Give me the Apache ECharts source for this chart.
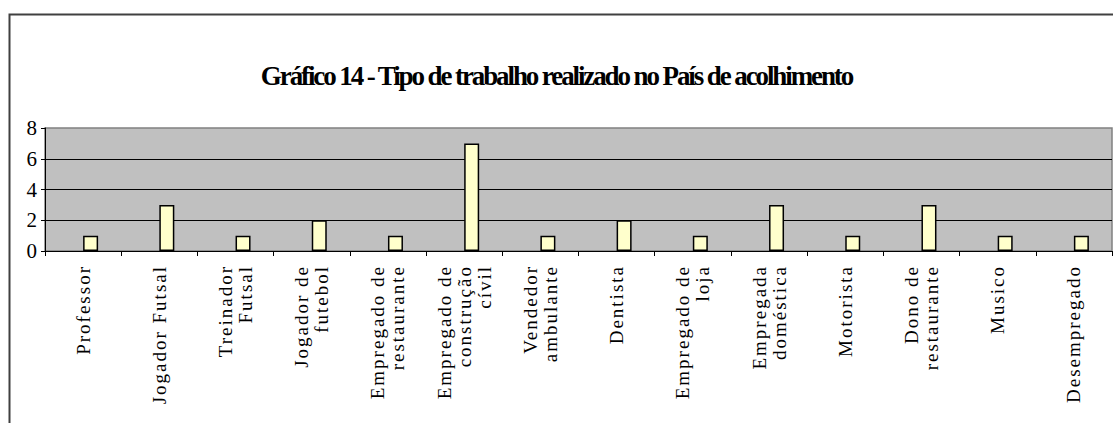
<!DOCTYPE html>
<html>
<head>
<meta charset="utf-8">
<script src="https://cdn.jsdelivr.net/npm/echarts@6/dist/echarts.min.js"></script>
<style>
  html, body { margin: 0; padding: 0; background: #fff; }
  #main { width: 1113px; height: 423px; }
  /* espaçamento das letras como no original (só funciona com o renderer svg) */
  #main text[style*="19px"] { letter-spacing: 2px; }
  #main text[style*="27px"] { letter-spacing: -2.1px; }
</style>
</head>
<body>
<div id="main"></div>
<script>
// categorias (eixo x)
var categorias = [
    'Professor', 'Jogador Futsal', 'Treinador\nFutsal', 'Jogador de\nfutebol',
    'Empregado de\nrestaurante', 'Empregado de\nconstrução\ncívil', 'Vendedor\nambulante',
    'Dentista', 'Empregado de\nloja', 'Empregada\ndoméstica', 'Motorista',
    'Dono de\nrestaurante', 'Musico', 'Desempregado'
];
// número de pessoas
var valores = [1, 3, 1, 2, 1, 7, 1, 2, 1, 3, 1, 3, 1, 1];
// eixo y
var yMin = 0, yMax = 8, yPasso = 2;

var titulo = 'Gráfico 14 - Tipo de trabalho realizado no País de acolhimento';

var chart = echarts.init(document.getElementById('main'), null, { renderer: 'svg' });

var option = {
    animation: false,
    backgroundColor: '#fff',
    title: {
        text: titulo,
        left: 'center',
        top: 57,
        textStyle: {
            fontFamily: 'Liberation Serif',
            fontWeight: 'bold',
            fontSize: 27,
            color: '#000'
        }
    },
    //moldura do gráfico
    graphic: [{
        type: 'rect',
        left: 7,
        top: 12,
        silent: true,
        shape: { width: 1200, height: 500 },
        style: { fill: 'none', stroke: '#404040', lineWidth: 2 }
    }],
    grid: {
        left: 45,
        right: 1,
        top: 128,
        bottom: 172,
        show: true,
        backgroundColor: '#C0C0C0',
        borderColor: '#808080',
        borderWidth: 1.5
    },
    xAxis: {
        type: 'category',
        data: categorias,
        boundaryGap: true,
        axisLine: { lineStyle: { color: '#000', width: 1 } },
        axisTick: { show: true, length: 5, lineStyle: { color: '#000' } },
        axisLabel: {
            interval: 0,
            rotate: 90,
            margin: 14,
            color: '#000',
            fontFamily: 'Liberation Serif',
            fontSize: 19,
            lineHeight: 20
        },
        splitLine: { show: false }
    },
    yAxis: {
        type: 'value',
        min: yMin,
        max: yMax,
        interval: yPasso,
        axisLine: { show: true, lineStyle: { color: '#000', width: 1 } },
        axisTick: { show: true, length: 4, lineStyle: { color: '#000' } },
        axisLabel: {
            margin: 8,
            color: '#000',
            fontFamily: 'Liberation Sans Narrow',
            fontSize: 21
        },
        splitLine: {
            show: true,
            showMinLine: false,
            showMaxLine: false,
            lineStyle: { color: '#000', width: 1 }
        }
    },
    series: [
        // série vazia (no original a barra fica deslocada para a direita)
        { type: 'bar', name: '', data: [], barWidth: 15, barGap: '0%' },
        {
            type: 'bar',
            name: 'Tipo de trabalho',
            data: valores,
            barWidth: 15,
            barGap: '0%',
            itemStyle: { color: '#FFFFCC', borderColor: '#000', borderWidth: 1.5 }
        }
    ]
};

chart.setOption(option);
</script>
</body>
</html>
